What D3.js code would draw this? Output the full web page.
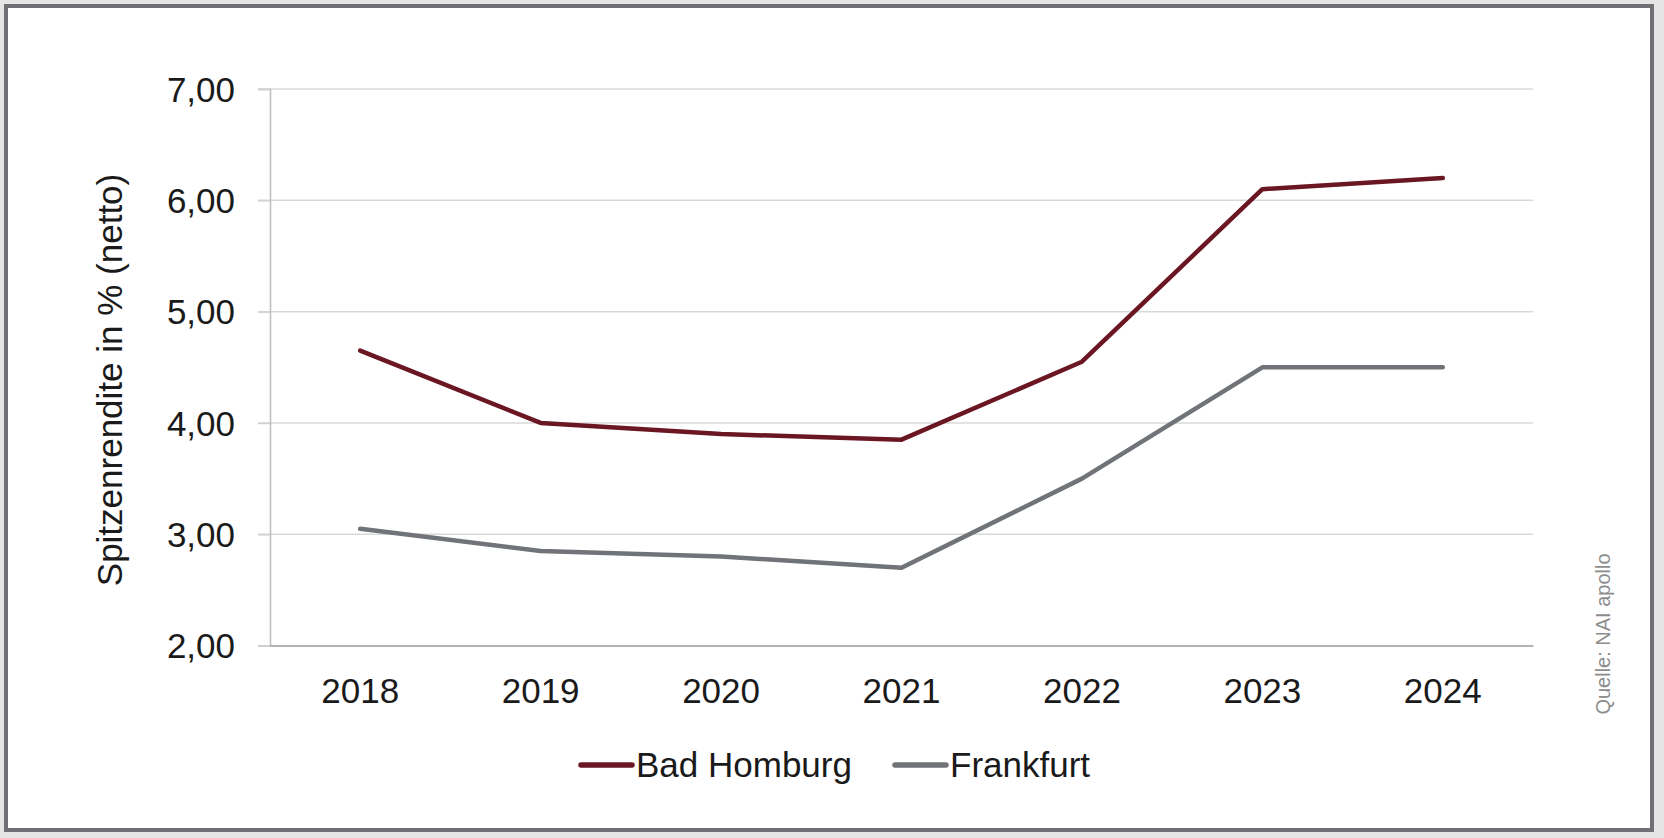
<!DOCTYPE html>
<html><head><meta charset="utf-8">
<script src="https://cdn.jsdelivr.net/npm/d3@7"></script>
<style>
html,body{margin:0;padding:0;background:#e5e5e5;}
svg{display:block;}
text{font-family:"Liberation Sans",Arial,sans-serif;}
</style></head>
<body>
<svg id="c" width="1664" height="838"></svg>
<script>
const years = ["2018","2019","2020","2021","2022","2023","2024"];
const badHomburg = [4.65, 4.00, 3.90, 3.85, 4.55, 6.10, 6.20];
const frankfurt = [3.05, 2.85, 2.80, 2.70, 3.50, 4.50, 4.50];
const yTicks = [2, 3, 4, 5, 6, 7];
const seriesNames = ["Bad Homburg", "Frankfurt"];
const seriesColors = ["#6b1623", "#707377"];
const yTitle = "Spitzenrendite in % (netto)";
const source = "Quelle: NAI apollo";

const FS = 35;
const svg = d3.select("#c");
// frame
svg.append("rect").attr("x",6).attr("y",6).attr("width",1646).attr("height",824)
  .attr("fill","#fff").attr("stroke","#6e7074").attr("stroke-width",4);

const x = d3.scaleBand().domain(years).range([270,1533]);
const y = d3.scaleLinear().domain([2,7]).range([645.6,89]);

// gridlines
svg.append("g").selectAll("line").data(yTicks.filter(d=>d>2)).join("line")
  .attr("x1",258).attr("x2",1533).attr("y1",d=>y(d)).attr("y2",d=>y(d))
  .attr("stroke","#d9d9d9").attr("stroke-width",1.5);

// y axis
const yAxis = d3.axisLeft(y).tickValues(yTicks).tickSize(12).tickPadding(23)
  .tickFormat(d=>d3.format(".2f")(d).replace(".",","));
const gy = svg.append("g").attr("transform","translate(270,0)").call(yAxis);
gy.select(".domain").attr("stroke","#bdbdbd").attr("stroke-width",1.5);
gy.selectAll(".tick line").attr("stroke","#d0d0d0").attr("stroke-width",1.5);
gy.selectAll(".tick text").attr("font-size",FS).attr("fill","#1a1a1a")
  .attr("font-family","Liberation Sans, Arial, sans-serif").attr("dy","0.35em");

// x axis
const xAxis = d3.axisBottom(x).tickSize(0).tickPadding(33);
const gx = svg.append("g").attr("transform",`translate(0,${y(2)})`).call(xAxis);
gx.select(".domain").attr("stroke","#9a9a9a").attr("stroke-width",1.5);
gx.selectAll(".tick text").attr("font-size",FS).attr("fill","#1a1a1a")
  .attr("font-family","Liberation Sans, Arial, sans-serif").attr("dy","0.71em");

// lines
const line = d3.line().x((d,i)=>x(years[i])+x.bandwidth()/2).y(d=>y(d));
[badHomburg, frankfurt].forEach((s,i)=>{
  svg.append("path").datum(s).attr("d",line).attr("fill","none")
    .attr("stroke",seriesColors[i]).attr("stroke-width",4.5)
    .attr("stroke-linecap","round").attr("stroke-linejoin","round");
});

// y title
svg.append("text").attr("transform","translate(122,380) rotate(-90)")
  .attr("text-anchor","middle").attr("font-size",FS).attr("fill","#1a1a1a").text(yTitle);

// source
svg.append("text").attr("transform","translate(1610,634) rotate(-90)")
  .attr("text-anchor","middle").attr("font-size",20).attr("fill","#8c8c8c").text(source);

// legend
const legX = [581, 895];
const lg = svg.append("g");
seriesNames.forEach((n,i)=>{
  lg.append("line").attr("x1",legX[i]).attr("x2",legX[i]+51).attr("y1",765).attr("y2",765)
    .attr("stroke",seriesColors[i]).attr("stroke-width",5.5).attr("stroke-linecap","round");
  lg.append("text").attr("x",legX[i]+55).attr("y",777).attr("font-size",FS)
    .attr("fill","#1a1a1a").text(n);
});
</script>
</body></html>
